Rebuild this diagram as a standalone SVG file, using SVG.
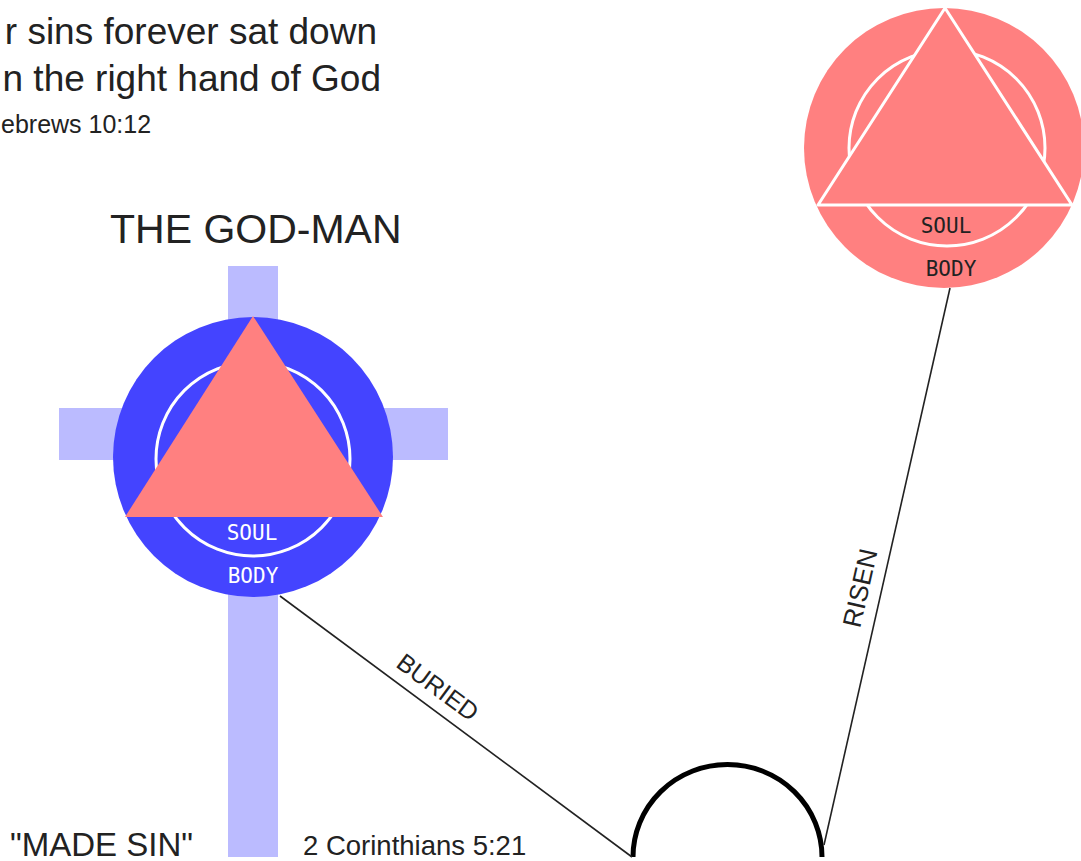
<svg xmlns="http://www.w3.org/2000/svg" width="1081" height="861" viewBox="0 0 1081 861">
<style>
.t{font-family:"Liberation Sans",Arial,sans-serif;fill:#222}
.lbl{font-family:"DejaVu Sans Mono","Liberation Mono",monospace;font-size:21px;text-anchor:middle}
.ring{fill:none;stroke:#fff;stroke-width:3}
.conn{stroke:#222;stroke-width:1.6;fill:none}
</style>
<rect width="1081" height="861" fill="#fff"/>
<g id="verse">
<text class="t" x="377" y="44" font-size="37" text-anchor="end">r sins forever sat down</text>
<text class="t" x="381" y="91" font-size="37" text-anchor="end">n the right hand of God</text>
<text class="t" x="1" y="133" font-size="25">ebrews 10:12</text>
</g>
<g id="heading">
<text class="t" x="110" y="243" font-size="41">THE GOD-MAN</text>
</g>
<g id="cross">
<rect x="228" y="266" width="50" height="591" fill="#BBBBFF"/>
<rect x="59" y="408" width="389" height="52" fill="#BBBBFF"/>
</g>
<g id="god-man">
<circle cx="253" cy="457" r="140" fill="#4444FF"/>
<circle class="ring" cx="253" cy="459" r="97"/>
<polygon points="253,316 125,517 383,517" fill="#FF8080"/>
<text class="lbl" x="252" y="540" fill="#fff">SOUL</text>
<text class="lbl" x="253" y="583" fill="#fff">BODY</text>
</g>
<g id="risen-man">
<circle cx="944" cy="148" r="140" fill="#FF8080"/>
<circle class="ring" cx="947" cy="148" r="98"/>
<polygon points="945,8 818,205 1072,205" fill="#FF8080" stroke="#fff" stroke-width="3" stroke-linejoin="round"/>
<text class="lbl" x="946" y="233" fill="#222">SOUL</text>
<text class="lbl" x="951" y="276" fill="#222">BODY</text>
</g>
<g id="tomb">
<path d="M633,857 A94,92 0 0 1 822,857" fill="none" stroke="#000" stroke-width="5"/>
</g>
<g id="connectors">
<line class="conn" x1="280" y1="596" x2="632" y2="857"/>
<line class="conn" x1="950" y1="288" x2="824" y2="845"/>
<text class="t" font-size="25" text-anchor="middle" transform="translate(438,687) rotate(36.6)" y="9">BURIED</text>
<text class="t" font-size="26" text-anchor="middle" transform="translate(860,588) rotate(-77.3)" y="9">RISEN</text>
</g>
<g id="captions">
<text class="t" x="10" y="856" font-size="33">"MADE SIN"</text>
<text class="t" x="303" y="855" font-size="27.5">2 Corinthians 5:21</text>
</g>
</svg>
